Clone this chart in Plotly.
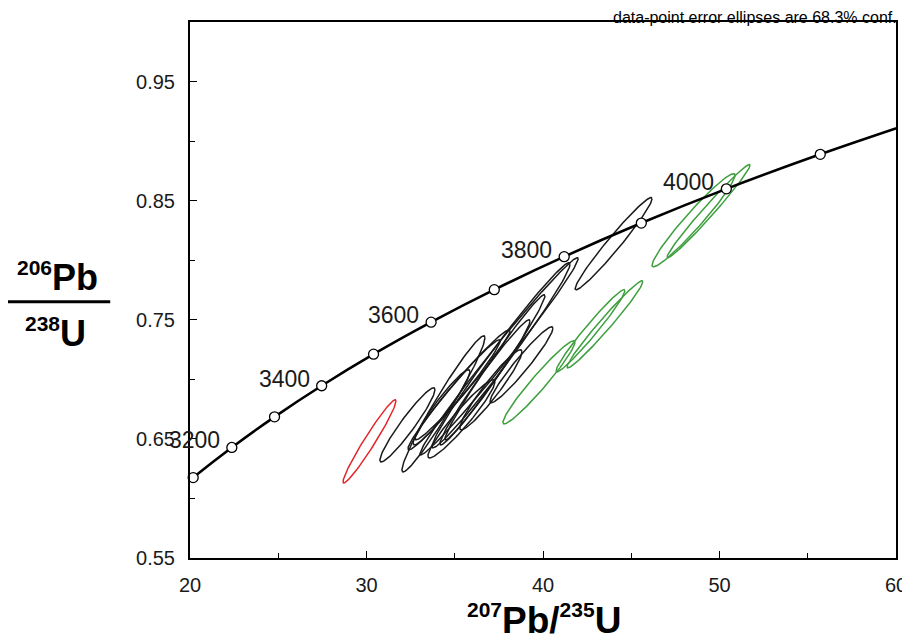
import numpy as np
import plotly.graph_objects as go

# concordia age markers (Ma) and their ratio coordinates
ages = [3100, 3200, 3300, 3400, 3500, 3600, 3700, 3800, 3900, 4000, 4100]
conc_x = [20.18, 22.37, 24.79, 27.46, 30.40, 33.66, 37.24, 41.20, 45.57, 50.39, 55.71]
conc_y = [0.6175, 0.6428, 0.6685, 0.6946, 0.7211, 0.7480, 0.7753, 0.8030, 0.8312, 0.8599, 0.8889]
# curve extends past the axis range on both sides
curve_x = [18.19] + conc_x + [61.58]
curve_y = [0.5926] + conc_y + [0.9185]
labelled_ages = [3200, 3400, 3600, 3800, 4000]

# error ellipses: centre x, centre y, half-width x, half-width y, correlation
black_x = [32.32, 34.36, 34.25, 34.96, 35.44, 35.38, 36.71, 37.05, 37.28, 37.51, 37.62, 38.78, 44.00]
black_y = [0.6618, 0.6794, 0.6765, 0.6870, 0.6954, 0.6668, 0.6975, 0.6912, 0.7101, 0.7193, 0.7202, 0.7122, 0.8139]
black_sx = [1.56, 2.35, 1.61, 2.61, 2.69, 1.90, 2.55, 1.76, 2.83, 4.48, 3.91, 1.78, 2.18]
black_sy = [0.0311, 0.0571, 0.0315, 0.0462, 0.0462, 0.0328, 0.0525, 0.0336, 0.0609, 0.0828, 0.0777, 0.0319, 0.0387]
black_rho = [0.95, 0.97, 0.95, 0.98, 0.98, 0.95, 0.98, 0.95, 0.985, 0.99, 0.985, 0.96, 0.975]

green_x = [39.77, 42.69, 43.51, 48.53, 49.38]
green_y = [0.6975, 0.7408, 0.7462, 0.8336, 0.8412]
green_sx = [2.04, 1.95, 2.15, 2.35, 2.35]
green_sy = [0.0349, 0.0345, 0.0366, 0.0391, 0.0391]
green_rho = [0.965, 0.975, 0.98, 0.965, 0.985]

red_x = [30.17]
red_y = [0.6479]
red_sx = [1.50]
red_sy = [0.0349]
red_rho = [0.97]

FONT = "Liberation Sans, Arial, sans-serif"


def ellipse(cx, cy, sx, sy, rho, n=120):
    t = np.linspace(0, 2 * np.pi, n)
    ex = cx + sx * np.cos(t)
    ey = cy + sy * (rho * np.cos(t) + np.sqrt(1 - rho ** 2) * np.sin(t))
    return ex, ey


fig = go.Figure()

groups = [
    (black_x, black_y, black_sx, black_sy, black_rho, "#1a1a1a"),
    (green_x, green_y, green_sx, green_sy, green_rho, "#3d9f3d"),
    (red_x, red_y, red_sx, red_sy, red_rho, "#e3262b"),
]
for xs, ys, sxs, sys_, rhos, col in groups:
    for cx, cy, sx, sy, r in zip(xs, ys, sxs, sys_, rhos):
        ex, ey = ellipse(cx, cy, sx, sy, r)
        fig.add_trace(go.Scatter(x=ex, y=ey, mode="lines",
                                 line=dict(color=col, width=1.5),
                                 hoverinfo="skip", showlegend=False))

# concordia curve
fig.add_trace(go.Scatter(x=curve_x, y=curve_y, mode="lines",
                         line=dict(color="black", width=2.6, shape="spline"),
                         hoverinfo="skip", showlegend=False))
fig.add_trace(go.Scatter(x=conc_x, y=conc_y, mode="markers",
                         marker=dict(size=10, color="white",
                                     line=dict(color="black", width=1.3)),
                         text=[str(a) for a in ages], hoverinfo="text",
                         showlegend=False, cliponaxis=False))

for a, cx, cy in zip(ages, conc_x, conc_y):
    if a in labelled_ages:
        fig.add_annotation(x=cx, y=cy, text=str(a), showarrow=False,
                           xanchor="right", yanchor="middle",
                           xshift=-10, yshift=7,
                           font=dict(size=23, color="#1a1a1a", family=FONT))

# axis titles (fraction on the left)
sup = "<sup><span style='font-size:21px'>%s</span></sup>"
fig.add_annotation(xref="paper", yref="paper", x=-0.187, y=0.482,
                   xanchor="center", yanchor="bottom", showarrow=False,
                   text="<b>" + sup % "206" + "Pb</b>",
                   font=dict(size=36, color="black", family=FONT))
fig.add_annotation(xref="paper", yref="paper", x=-0.19, y=0.462,
                   xanchor="center", yanchor="top", showarrow=False,
                   text="<b>" + sup % "238" + "U</b>",
                   font=dict(size=36, color="black", family=FONT))
fig.add_shape(type="line", xref="paper", yref="paper",
              x0=-0.258, x1=-0.113, y0=0.478, y1=0.478,
              line=dict(color="black", width=3))
fig.add_annotation(xref="paper", yref="paper", x=0.501, y=-0.07,
                   xanchor="center", yanchor="top", showarrow=False,
                   text="<b>" + sup % "207" + "Pb/" + sup % "235" + "U</b>",
                   font=dict(size=37, color="black", family=FONT))
fig.add_annotation(xref="paper", yref="paper", x=1.004, y=1.0,
                   xanchor="right", yanchor="bottom", showarrow=False,
                   yshift=-6,
                   text="data-point error ellipses are 68.3% conf.",
                   font=dict(size=16, color="black", family=FONT))

axis_common = dict(showline=True, linecolor="black", linewidth=2, mirror=True,
                   ticks="inside", ticklen=7, tickwidth=1.3, tickcolor="black",
                   showgrid=False, zeroline=False,
                   tickfont=dict(size=20, color="#1a1a1a", family=FONT))
fig.update_xaxes(range=[20, 60], tick0=20, dtick=10, ticklabelstandoff=8,
                 minor=dict(ticks="inside", ticklen=5, dtick=5, tick0=20,
                            tickcolor="black", tickwidth=1.3),
                 **axis_common)
fig.update_yaxes(range=[0.55, 1.0], tick0=0.55, dtick=0.1, tickformat=".2f",
                 ticklabelstandoff=9,
                 minor=dict(ticks="inside", ticklen=5, dtick=0.05, tick0=0.55,
                            tickcolor="black", tickwidth=1.3),
                 **axis_common)

# the page body adds an 8px margin, so the figure sits 8px in from the corner
fig.update_layout(width=910, height=644,
                  margin=dict(l=182, r=22, t=14, b=94),
                  plot_bgcolor="white", paper_bgcolor="white",
                  font=dict(family=FONT))

fig.write_html("out.html")
